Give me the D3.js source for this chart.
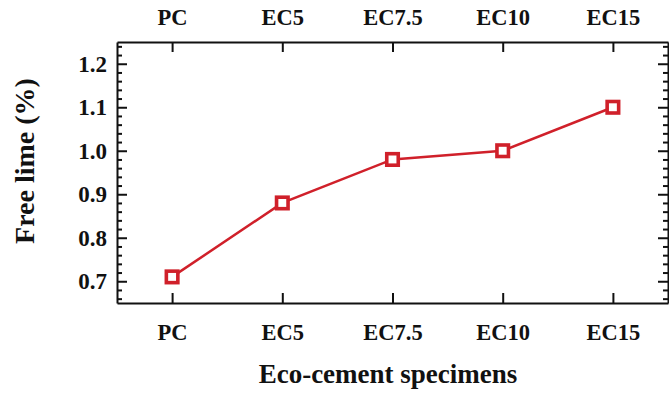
<!DOCTYPE html>
<html>
<head>
<meta charset="utf-8">
<script src="https://cdn.jsdelivr.net/npm/d3@7"></script>
<style>
	body { margin: 0; background: #fff; }
	svg { display: block; }
	text { font-family: "Liberation Serif", "Times New Roman", serif; font-weight: bold; fill: #111; }
</style>
</head>
<body>
<svg id="chart" width="669" height="393"></svg>
<script>
var categories = ["PC", "EC5", "EC7.5", "EC10", "EC15"];
var freeLime = [0.71, 0.88, 0.98, 1.00, 1.10];
var yTicks = [0.7, 0.8, 0.9, 1.0, 1.1, 1.2];
var yDomain = [0.65, 1.25];

var plotLeft = 117, plotRight = 668, plotTop = 42, plotBottom = 303;
var red = "#d0202a";

var svg = d3.select("#chart");

var x = d3.scalePoint()
	.domain(categories)
	.range([plotLeft, plotRight])
	.padding(0.5);

var y = d3.scaleLinear()
	.domain(yDomain)
	.range([plotBottom, plotTop]);

var minorTicks = d3.range(0.66, 1.25, 0.02).filter(function(v){
	return Math.abs(Math.round(v * 10) - v * 10) > 0.01;
});

var styleAxis = function(g, size){
	g.select(".domain").attr("stroke", "#111").attr("stroke-width", 2);
	g.selectAll(".tick line").attr("stroke", "#111").attr("stroke-width", 2);
	g.selectAll(".tick text").attr("font-size", size).attr("fill", "#111");
};

// bottom axis
var gb = svg.append("g")
	.attr("transform", "translate(0," + plotBottom + ")")
	.call(d3.axisBottom(x).tickSizeInner(-10).tickSizeOuter(0).tickPadding(21));
styleAxis(gb, 22.5);

// top axis
var gt = svg.append("g")
	.attr("transform", "translate(0," + plotTop + ")")
	.call(d3.axisTop(x).tickSizeInner(-10).tickSizeOuter(0).tickPadding(17));
styleAxis(gt, 22.5);

// left axis, major and minor
var gl = svg.append("g")
	.attr("transform", "translate(" + plotLeft + ",0)")
	.call(d3.axisLeft(y).tickValues(yTicks).tickFormat(d3.format(".1f"))
		.tickSizeInner(-10).tickSizeOuter(0).tickPadding(10));
styleAxis(gl, 23);
var glm = svg.append("g")
	.attr("transform", "translate(" + plotLeft + ",0)")
	.call(d3.axisLeft(y).tickValues(minorTicks).tickFormat("")
		.tickSizeInner(-5).tickSizeOuter(0));
styleAxis(glm, 23);
glm.select(".domain").remove();

// right axis, major and minor
var gr = svg.append("g")
	.attr("transform", "translate(" + plotRight + ",0)")
	.call(d3.axisRight(y).tickValues(yTicks).tickFormat("")
		.tickSizeInner(-10).tickSizeOuter(0));
styleAxis(gr, 23);
var grm = svg.append("g")
	.attr("transform", "translate(" + plotRight + ",0)")
	.call(d3.axisRight(y).tickValues(minorTicks).tickFormat("")
		.tickSizeInner(-5).tickSizeOuter(0));
styleAxis(grm, 23);
grm.select(".domain").remove();

// data line
var data = categories.map(function(c, i){ return {cat: c, val: freeLime[i]}; });

var line = d3.line()
	.x(function(d){ return x(d.cat); })
	.y(function(d){ return y(d.val); });

svg.append("path")
	.datum(data)
	.attr("fill", "none")
	.attr("stroke", red)
	.attr("stroke-width", 2.5)
	.attr("d", line);

var sq = 11.5;
svg.selectAll(".marker")
	.data(data)
	.enter().append("rect")
		.attr("class", "marker")
		.attr("x", function(d){ return x(d.cat) - sq / 2; })
		.attr("y", function(d){ return y(d.val) - sq / 2; })
		.attr("width", sq)
		.attr("height", sq)
		.attr("fill", "#fff")
		.attr("stroke", red)
		.attr("stroke-width", 3.6);

// titles
svg.append("text")
	.attr("x", 388)
	.attr("y", 383)
	.attr("text-anchor", "middle")
	.attr("font-size", 27)
	.text("Eco-cement specimens");

svg.append("text")
	.attr("transform", "translate(34,161) rotate(-90)")
	.attr("text-anchor", "middle")
	.attr("font-size", 28)
	.text("Free lime (%)");
</script>
</body>
</html>
